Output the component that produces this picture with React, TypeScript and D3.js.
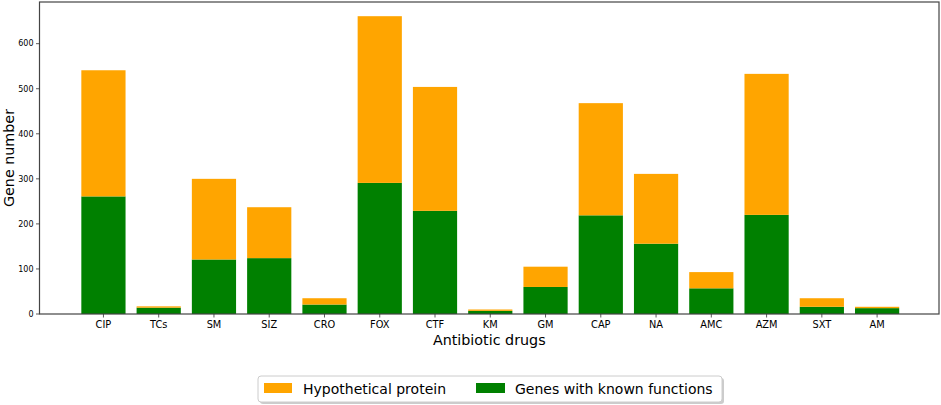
import React from "react";
import * as d3 from "d3";

const categories = ["CIP", "TCs", "SM", "SIZ", "CRO", "FOX", "CTF", "KM", "GM", "CAP", "NA", "AMC", "AZM", "SXT", "AM"];
const knownGenes = [261, 14, 121, 124, 21, 291, 229, 7, 60, 219, 156, 57, 220, 16, 13];
const hypothetical = [280, 3, 179, 113, 14, 370, 275, 3, 45, 249, 155, 36, 313, 19, 3];
const yTicks = [0, 100, 200, 300, 400, 500, 600];

const W = 941, H = 405;
const left = 39.5, right = 939, top = 2, bottom = 314;

export default function App() {
  const x = d3.scaleLinear().domain([-1.157, 15.12]).range([left, right]);
  const y = d3.scaleLinear().domain([0, 692.5]).range([bottom, top]);
  const bw = x(0.8) - x(0);
  const font = "DejaVu Sans, sans-serif";
  return (
    <svg width={W} height={H} style={{ position: "absolute", left: 0, top: 0 }} fontFamily={font}>
      <rect x={0} y={0} width={W} height={H} fill="#fff" />
      {categories.map((c, i) => {
        const g = knownGenes[i];
        const h = hypothetical[i];
        return (
          <g key={c}>
            <rect x={x(i) - bw / 2} y={y(g)} width={bw} height={y(0) - y(g)} fill="#008000" />
            <rect x={x(i) - bw / 2} y={y(g + h)} width={bw} height={y(g) - y(g + h)} fill="#ffa500" />
          </g>
        );
      })}
      <rect x={left} y={top} width={right - left} height={bottom - top} fill="none" stroke="#444" strokeWidth={1.2} />
      {yTicks.map((t) => (
        <g key={t}>
          <line x1={left - 3.5} x2={left} y1={y(t)} y2={y(t)} stroke="#333" strokeWidth={0.8} />
          <text x={left - 6} y={y(t)} dy="0.35em" textAnchor="end" fontSize={8} fill="#000">{t}</text>
        </g>
      ))}
      {categories.map((c, i) => (
        <g key={c}>
          <line x1={x(i)} x2={x(i)} y1={bottom} y2={bottom + 3.5} stroke="#333" strokeWidth={0.8} />
          <text x={x(i)} y={bottom + 14} textAnchor="middle" fontSize={9.8} fill="#000">{c}</text>
        </g>
      ))}
      <text x={(left + right) / 2} y={345} textAnchor="middle" fontSize={14.3} fill="#000">Antibiotic drugs</text>
      <text transform={`translate(13.5,${(top + bottom) / 2}) rotate(-90)`} textAnchor="middle" fontSize={14.3} fill="#000">Gene number</text>
      <g>
        <rect x={260} y={378} width={464} height={26} rx={3} fill="#999" opacity={0.5} />
        <rect x={258} y={376} width={464} height={26} rx={3} fill="#fff" stroke="#ccc" strokeWidth={1} />
        <rect x={264} y={383} width={28} height={10} fill="#ffa500" />
        <text x={303} y={394} fontSize={14} fill="#000">Hypothetical protein</text>
        <rect x={476} y={383} width={29} height={10} fill="#008000" />
        <text x={515} y={394} fontSize={14} fill="#000">Genes with known functions</text>
      </g>
    </svg>
  );
}
